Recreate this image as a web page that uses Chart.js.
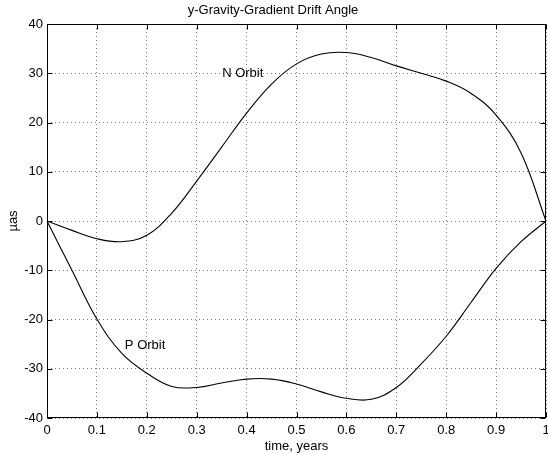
<!DOCTYPE html>
<html>
<head>
<meta charset="utf-8">
<script src="https://cdn.jsdelivr.net/npm/chart.js@4/dist/chart.umd.min.js"></script>
<style>
  html, body { margin: 0; padding: 0; background: #fff; }
  #wrap { width: 548px; height: 454px; position: relative; }
</style>
</head>
<body>
<div id="wrap"><canvas id="c" width="548" height="454"></canvas></div>
<script>
// ---- data ----
const orbitTime   = [0, 0.05, 0.1, 0.15, 0.2, 0.25, 0.3, 0.35, 0.4, 0.45, 0.5, 0.55, 0.6, 0.65, 0.7, 0.75, 0.8, 0.85, 0.9, 0.95, 1];
const nOrbitAngle = [0, -1.9, -3.6, -4.2, -2.9, 1.6, 8.1, 15.0, 21.9, 27.8, 31.9, 33.9, 34.2, 33.2, 31.5, 30.0, 28.4, 25.9, 21.5, 13.8, 0];
const pOrbitAngle = [0, -10.0, -19.9, -26.9, -30.9, -33.6, -33.8, -32.9, -32.1, -32.1, -33.1, -34.7, -36.0, -36.2, -33.8, -29.0, -23.4, -16.5, -9.6, -4.2, 0];

const xTickValues = [0, 0.1, 0.2, 0.3, 0.4, 0.5, 0.6, 0.7, 0.8, 0.9, 1];
const xTickLabels = ['0', '0.1', '0.2', '0.3', '0.4', '0.5', '0.6', '0.7', '0.8', '0.9', '1'];
const yTickValues = [-40, -30, -20, -10, 0, 10, 20, 30, 40];
const yTickLabels = ['-40', '-30', '-20', '-10', '0', '10', '20', '30', '40'];

const curveLabels = ['N Orbit', 'P Orbit'];
const curveLabelTime = [0.351, 0.156];
const curveLabelAngle = [30.0, -25.3];

const chartTitle = 'y-Gravity-Gradient Drift Angle';
const xAxisTitle = 'time, years';
const yAxisTitle = 'µas';

// ---- build ----
const FONT = '"Liberation Sans", Arial, Helvetica, sans-serif';
const toPoints = (xs, ys) => xs.map((x, i) => ({ x: x, y: ys[i] }));

const framePlugin = {
  id: 'frame',
  afterDraw(chart) {
    const { ctx, chartArea, scales } = chart;
    const xs = scales.x, ys = scales.y;
    const L = Math.round(chartArea.left) + 0.5;
    const R = Math.round(chartArea.right) - 0.5;
    const T = Math.round(chartArea.top) + 0.5;
    const B = Math.round(chartArea.bottom) - 0.5;
    const tl = 5;
    ctx.save();
    ctx.strokeStyle = '#000';
    ctx.lineWidth = 1;
    ctx.setLineDash([]);
    ctx.beginPath();
    xs.ticks.forEach(t => {
      const p = Math.round(xs.getPixelForValue(t.value)) + 0.5;
      ctx.moveTo(p, B); ctx.lineTo(p, B - tl);
      ctx.moveTo(p, T); ctx.lineTo(p, T + tl);
    });
    ys.ticks.forEach(t => {
      const p = Math.round(ys.getPixelForValue(t.value)) + 0.5;
      ctx.moveTo(L, p); ctx.lineTo(L + tl, p);
      ctx.moveTo(R, p); ctx.lineTo(R - tl, p);
    });
    ctx.stroke();
    ctx.strokeRect(L, T, R - L, B - T);
    ctx.restore();
  }
};

const labelPlugin = {
  id: 'curveLabels',
  afterDatasetsDraw(chart) {
    const { ctx, scales } = chart;
    ctx.save();
    ctx.fillStyle = '#000';
    ctx.font = '13px ' + FONT;
    ctx.textAlign = 'left';
    ctx.textBaseline = 'middle';
    curveLabels.forEach((txt, i) => {
      ctx.fillText(txt, scales.x.getPixelForValue(curveLabelTime[i]), scales.y.getPixelForValue(curveLabelAngle[i]));
    });
    ctx.restore();
  }
};

const lineStyle = {
  borderColor: '#000',
  borderWidth: 1.1,
  pointRadius: 0,
  fill: false,
  tension: 0.4
};

new Chart(document.getElementById('c'), {
  type: 'line',
  data: {
    datasets: [
      Object.assign({ label: curveLabels[0], data: toPoints(orbitTime, nOrbitAngle) }, lineStyle),
      Object.assign({ label: curveLabels[1], data: toPoints(orbitTime, pOrbitAngle) }, lineStyle)
    ]
  },
  options: {
    responsive: false,
    animation: false,
    devicePixelRatio: 1,
    layout: { padding: { left: 0, right: 2, top: 0, bottom: 0 } },
    plugins: {
      legend: { display: false },
      tooltip: { enabled: false },
      title: {
        display: true,
        text: chartTitle,
        color: '#000',
        font: { family: FONT, size: 13, weight: 'normal', lineHeight: 1.2 },
        padding: { top: 2.7, bottom: 5.7 }
      }
    },
    scales: {
      x: {
        type: 'linear',
        min: 0, max: 1,
        afterBuildTicks: s => { s.ticks = xTickValues.map(v => ({ value: v })); },
        afterFit: s => { s.height = 36; s.paddingLeft = 0; s.paddingRight = 0; },
        ticks: {
          color: '#000',
          font: { family: FONT, size: 13 },
          padding: 5,
          maxRotation: 0,
          autoSkip: false,
          callback: (v, i) => xTickLabels[i]
        },
        grid: { color: '#7a7a7a', lineWidth: 1, drawTicks: false },
        border: { display: false, dash: [1, 3] },
        title: {
          display: true,
          text: xAxisTitle,
          color: '#000',
          font: { family: FONT, size: 13, lineHeight: 1.2 },
          padding: { top: 0, bottom: 0 }
        }
      },
      y: {
        type: 'linear',
        min: -40, max: 40,
        afterBuildTicks: s => { s.ticks = yTickValues.map(v => ({ value: v })); },
        afterFit: s => { s.width = 47; s.paddingTop = 0; s.paddingBottom = 0; },
        ticks: {
          color: '#000',
          font: { family: FONT, size: 13 },
          padding: 4,
          autoSkip: false,
          callback: (v, i) => yTickLabels[i]
        },
        grid: { color: '#7a7a7a', lineWidth: 1, drawTicks: false },
        border: { display: false, dash: [1, 3] },
        title: {
          display: true,
          text: yAxisTitle,
          color: '#000',
          font: { family: FONT, size: 13, lineHeight: 1.2 },
          padding: { top: 5.5, bottom: 0 }
        }
      }
    }
  },
  plugins: [labelPlugin, framePlugin]
});
</script>
</body>
</html>
